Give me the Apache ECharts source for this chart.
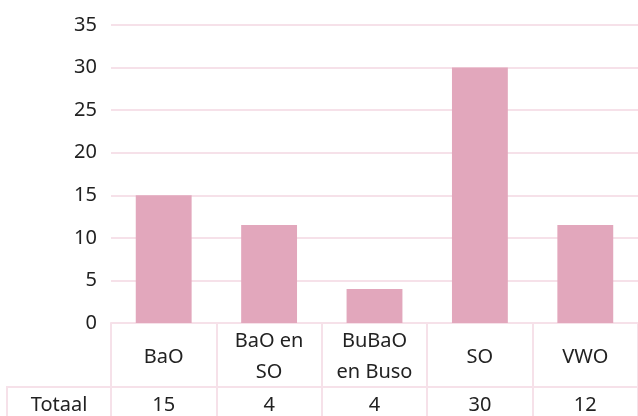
<!DOCTYPE html>
<html>
<head>
<meta charset="utf-8">
<script src="https://cdn.jsdelivr.net/npm/echarts@6/dist/echarts.min.js"></script>
<style>
  html, body { margin: 0; padding: 0; background: #fff; }
  #chart { width: 638px; height: 416px; }
</style>
</head>
<body>
<div id="chart"></div>
<script>
// categorieen en waarden
var categories = ["BaO", "BaO en\nSO", "BuBaO\nen Buso", "SO", "VWO"];
var barValues = [15, 11.5, 4, 30, 11.5];
var totals = ["15", "4", "4", "30", "12"];
var rowLabel = "Totaal";
var yTicks = { min: 0, max: 35, interval: 5 };

var pink = "#e2a7bc",
  lineCol = "#f6e1e9",
  txt = "#222222",
  font = "Noto Sans",
  fs = 20;

var chart = echarts.init(document.getElementById("chart"));
chart.setOption({
  animation: false,
  textStyle: { fontFamily: font },
  grid: { left: 111, right: 0, top: 25, bottom: 93 },
  xAxis: [
    {
      type: "category",
      data: categories,
      axisLine: { show: true, lineStyle: { color: lineCol, width: 2 } },
      axisTick: { show: true, length: 96, lineStyle: { color: lineCol, width: 2 } },
      axisLabel: {
        color: txt, fontSize: fs, lineHeight: 31, margin: 34,
        verticalAlign: "middle", interval: 0, fontFamily: font
      }
    },
    {
      type: "category",
      data: totals,
      position: "bottom",
      offset: 64,
      axisLine: { show: true, lineStyle: { color: lineCol, width: 2 } },
      axisTick: { show: false },
      axisLabel: {
        color: txt, fontSize: fs, margin: 18,
        verticalAlign: "middle", interval: 0, fontFamily: font
      }
    }
  ],
  yAxis: {
    type: "value",
    min: yTicks.min,
    max: yTicks.max,
    interval: yTicks.interval,
    axisLine: { show: false },
    axisTick: { show: false },
    axisLabel: { color: txt, fontSize: fs, margin: 14, fontFamily: font },
    splitLine: { lineStyle: { color: lineCol, width: 2 } }
  },
  series: [
    {
      type: "bar",
      data: barValues,
      barWidth: "53%",
      itemStyle: { color: pink }
    }
  ],
  graphic: [
    {
      type: "rect",
      shape: { x: 7, y: 387, width: 104, height: 60 },
      style: { fill: "none", stroke: lineCol, lineWidth: 2 },
      silent: true
    },
    {
      type: "text",
      x: 59,
      y: 405,
      style: {
        text: rowLabel, fill: txt, font: fs + "px " + font,
        textAlign: "center", textVerticalAlign: "middle"
      }
    }
  ]
});
</script>
</body>
</html>
